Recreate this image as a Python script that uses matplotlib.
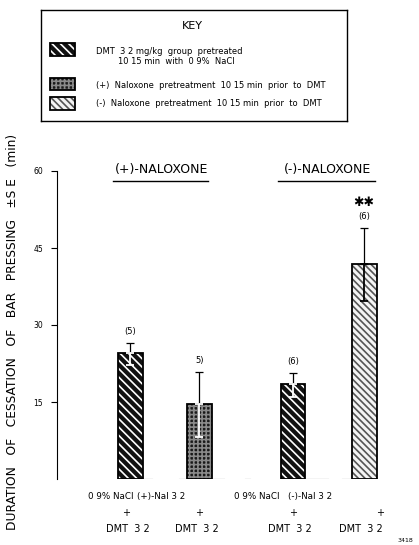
import matplotlib.pyplot as plt
from matplotlib.patches import Rectangle
import numpy as np

plt.rcParams['font.family'] = ['DejaVu Sans']
plt.rcParams['hatch.linewidth'] = 1.2

# data
groups = ['(+)-NALOXONE', '(-)-NALOXONE']
line1 = ['0 9% NaCl', '(+)-Nal 3 2', '0 9% NaCl', '(-)-Nal 3 2']
means = [24.5, 14.6, 18.5, 41.9]
err_up = [2.0, 6.2, 2.1, 7.0]
err_lo = [2.3, 6.4, 2.5, 7.2]
counts = ['(5)', '5)', '(6)', '(6)']
xpos = np.array([0, 1, 2.36, 3.39])
styles = ['saline', 'plus', 'saline', 'minus']

def draw_swatch(ax, x, y, w, h, kind, **kw):
    if kind == 'saline':
        ax.add_patch(Rectangle((x, y), w, h, facecolor='#111111', edgecolor='white', hatch='\\\\\\\\', lw=0, **kw))
    elif kind == 'plus':
        ax.add_patch(Rectangle((x, y), w, h, facecolor='#1a1a1a', edgecolor='#8a8a8a', hatch='++++', lw=0, **kw))
    else:
        ax.add_patch(Rectangle((x, y), w, h, facecolor='#f4f4f4', edgecolor='#555555', hatch='\\\\\\\\\\', lw=0, **kw))
    ax.add_patch(Rectangle((x, y), w, h, fill=False, edgecolor='black', lw=1.3, **kw))

fig = plt.figure(figsize=(4.19, 5.45), dpi=100)
ax = fig.add_axes([57/419, 66/545, 343/419, 308/545])
ax.set_xlim(-1.06, 3.91)
ax.set_ylim(0, 60)

w = 0.36
for x, m, kind in zip(xpos, means, styles):
    draw_swatch(ax, x - w/2, 0, w, m, kind)

for i, x in enumerate(xpos):
    ax.errorbar(x, means[i], yerr=[[0], [err_up[i]]], fmt='none', ecolor='black', elinewidth=0.9, capsize=3, capthick=0.9)
    lc = 'black' if styles[i] == 'minus' else 'white'
    ax.errorbar(x, means[i], yerr=[[err_lo[i]], [0]], fmt='none', ecolor=lc, elinewidth=1.3, capsize=3, capthick=1.3)
    ax.text(x, means[i] + err_up[i] + 2.2, counts[i], ha='center', va='center', fontsize=6)

ax.text(xpos[3], means[3] + err_up[3] + 4.9, '✱✱', ha='center', va='center', fontsize=9, fontweight='bold')

# group titles with underlines
ax.text(0.45, 60.3, groups[0], ha='center', va='center', fontsize=9, clip_on=False)
ax.text(2.86, 60.3, groups[1], ha='center', va='center', fontsize=9, clip_on=False)
ax.plot([-0.25, 1.13], [58.1, 58.1], color='black', lw=1, clip_on=False)
ax.plot([2.14, 3.55], [58.1, 58.1], color='black', lw=1, clip_on=False)

# baseline pieces
for a, b in [(0.17, 0.32), (0.71, 0.81), (1.19, 1.36), (1.67, 1.74), (2.54, 2.87), (3.07, 3.22)]:
    ax.plot([a, b], [0, 0], color='#444444', lw=0.8)

# category labels
l1x = xpos + np.array([-0.28, -0.55, -0.53, -0.78])
plx = xpos + np.array([-0.06, 0.0, 0.0, 0.23])
for i in range(4):
    ax.text(l1x[i], -3.5, line1[i], ha='center', va='center', fontsize=6.3, clip_on=False)
    ax.text(plx[i], -6.6, '+', ha='center', va='center', fontsize=7, clip_on=False)
    ax.text(xpos[i] - 0.04, -9.7, 'DMT  3 2', ha='center', va='center', fontsize=7, clip_on=False)

ax.set_yticks([15, 30, 45, 60])
ax.set_yticklabels(['15', '30', '45', '60'], fontsize=5.5)
ax.tick_params(axis='y', direction='out', length=4, width=0.8, pad=6)
ax.set_xticks([])
for s in ['top', 'right', 'bottom']:
    ax.spines[s].set_visible(False)
ax.spines['left'].set_linewidth(0.8)

fig.text(13/419, 1 - 332/545, 'DURATION   OF   CESSATION   OF   BAR   PRESSING   ±S E   (min)',
         rotation=90, ha='center', va='center', fontsize=8.8)
fig.text(405/419, 1 - 540/545, '3418', ha='center', va='center', fontsize=4.5)

# key box
kax = fig.add_axes([41/419, 1 - 121/545, 306/419, 111/545])
kax.set_xlim(0, 306)
kax.set_ylim(111, 0)
kax.set_xticks([])
kax.set_yticks([])
for s in kax.spines.values():
    s.set_linewidth(1.0)
kax.text(151, 16, 'KEY', ha='center', va='center', fontsize=8)
draw_swatch(kax, 9, 33, 25, 13, 'saline')
draw_swatch(kax, 9, 68, 25, 12, 'plus')
draw_swatch(kax, 9, 87, 25, 13, 'minus')
kax.text(55, 42, 'DMT  3 2 mg/kg  group  pretreated', va='center', fontsize=6)
kax.text(77, 52, '10 15 min  with  0 9%  NaCl', va='center', fontsize=6)
kax.text(55, 76, '(+)  Naloxone  pretreatment  10 15 min  prior  to  DMT', va='center', fontsize=6)
kax.text(55, 94, '(-)  Naloxone  pretreatment  10 15 min  prior  to  DMT', va='center', fontsize=6)

fig.savefig('out.png', dpi=100)
